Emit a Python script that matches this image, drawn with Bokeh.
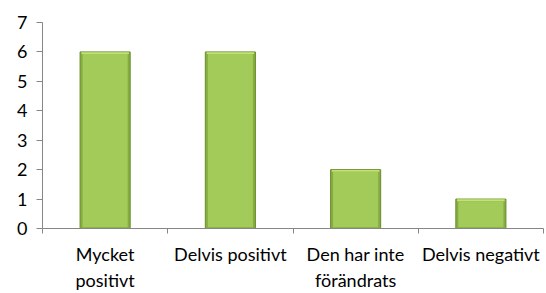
from bokeh.plotting import figure
from bokeh.models import FixedTicker, Range1d, ColumnDataSource
from bokeh.embed import file_html
from bokeh.resources import INLINE

categories = ["Mycket\npositivt", "Delvis positivt", "Den har inte\nförändrats", "Delvis negativt"]
values = [6, 6, 2, 1]
y_ticks = [0, 1, 2, 3, 4, 5, 6, 7]

xs = [i + 0.5 for i in range(len(categories))]
src = ColumnDataSource(dict(
    x=xs, top=values,
    top_in=[v - 0.07 for v in values],
    top_hi=[v - 0.01 for v in values],
))

p = figure(width=546, height=293, output_backend="svg", toolbar_location=None,
           x_range=Range1d(0, 4), y_range=Range1d(0, 7),
           min_border_left=42, min_border_right=3, min_border_top=22, min_border_bottom=58)
p.outline_line_color = None
p.xgrid.visible = False
p.ygrid.visible = False

p.vbar(x="x", top="top", width=0.4, source=src, fill_color="#86ad41", line_color="#6a8c2c", line_width=1)
p.vbar(x="x", top="top_hi", bottom="top_in", width=0.38, source=src, fill_color="#c3e274", line_color=None)
p.vbar(x="x", top="top_in", bottom=0.04, width=0.36, source=src, fill_color="#a3cb5a", line_color=None)

p.xaxis.ticker = FixedTicker(ticks=xs, minor_ticks=[0, 1, 2, 3, 4])
p.xaxis.major_label_overrides = {x: c for x, c in zip(xs, categories)}
p.xaxis.major_tick_out = 0
p.xaxis.major_tick_in = 0
p.xaxis.minor_tick_out = 5
p.xaxis.minor_tick_in = 0
p.xaxis.minor_tick_line_color = "#868686"
p.xaxis.axis_line_color = "#868686"
p.xaxis.major_label_text_font = "Lato"
p.xaxis.major_label_text_font_size = "18px"
p.xaxis.major_label_text_color = "#000000"
p.xaxis.major_label_standoff = 9
p.xaxis.axis_label_standoff = 0

p.yaxis.ticker = FixedTicker(ticks=y_ticks)
p.yaxis.minor_tick_line_color = None
p.yaxis.major_tick_out = 6
p.yaxis.major_tick_in = 0
p.yaxis.major_tick_line_color = "#868686"
p.yaxis.axis_line_color = "#868686"
p.yaxis.major_label_text_font = "Lato"
p.yaxis.major_label_text_font_size = "18px"
p.yaxis.major_label_text_color = "#000000"
p.yaxis.major_label_standoff = 9

open("out.html", "w").write(file_html(p, INLINE))
